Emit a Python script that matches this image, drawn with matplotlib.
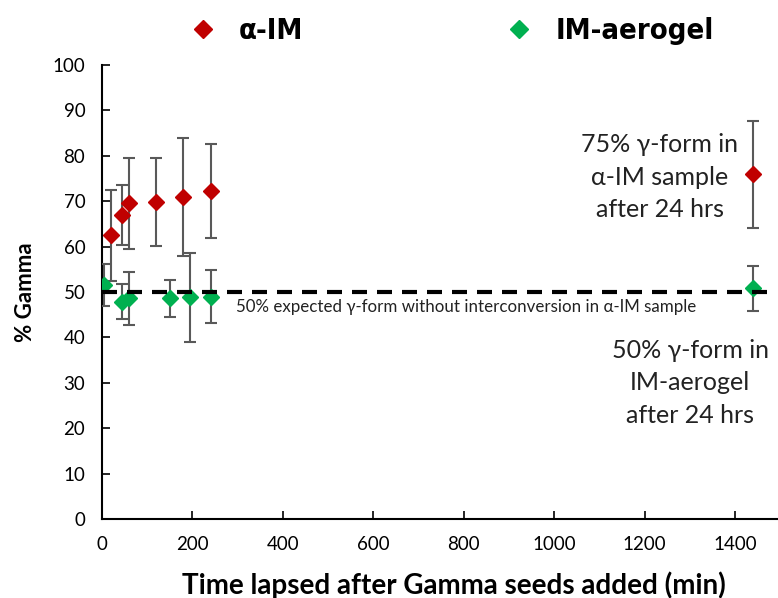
import matplotlib.pyplot as plt
from matplotlib.lines import Line2D

# time after seeding (min) and % gamma form, with standard deviations
t_alpha = [20, 45, 60, 120, 180, 240, 1440]
gamma_alpha = [62.5, 67.0, 69.5, 69.8, 71.0, 72.3, 75.9]
err_alpha = [10.0, 6.6, 10.0, 9.7, 13.0, 10.4, 11.8]

t_aerogel = [5, 45, 60, 150, 195, 240, 1440]
gamma_aerogel = [51.6, 47.9, 48.6, 48.6, 48.8, 49.0, 50.8]
err_aerogel = [4.6, 3.8, 5.9, 4.0, 9.9, 5.9, 4.9]

red = '#c00000'
green = '#00b050'
plt.rcParams['font.family'] = ['Lato', 'DejaVu Sans']

fig = plt.figure(figsize=(7.78, 5.98), dpi=100)
ax = fig.add_axes([0.1311, 0.1321, 0.8689, 0.7592])

ax.errorbar(t_alpha, gamma_alpha, yerr=err_alpha, fmt='D', color=red, ms=8,
            ecolor='#595959', elinewidth=1.5, capsize=4, capthick=1.5, zorder=3)
ax.errorbar(t_aerogel, gamma_aerogel, yerr=err_aerogel, fmt='D', color=green, ms=8,
            ecolor='#595959', elinewidth=1.5, capsize=4, capthick=1.5, zorder=3)

# 50% reference line (no interconversion)
ax.plot([0, 1490], [50, 50], color='black', lw=3, dashes=(3.6, 2.4), zorder=4)
ax.text(296, 48.4, '50% expected γ-form without interconversion in α-IM sample',
        fontsize=12.2, va='top', ha='left', color='#222222')

ax.text(1234, 75.3, '75% γ-form in\nα-IM sample\nafter 24 hrs', fontsize=18,
        ha='center', va='center', linespacing=1.5, color='#222222')
ax.text(1301, 30, '50% γ-form in\nIM-aerogel\nafter 24 hrs', fontsize=18,
        ha='center', va='center', linespacing=1.5, color='#222222')

ax.set_xlim(0, 1495)
ax.set_ylim(0, 100)
ax.set_xticks(range(0, 1401, 200))
ax.set_yticks(range(0, 101, 10))
ax.tick_params(direction='in', length=6, width=1.2, labelsize=13.5, pad=12)
for s in ['top', 'right']:
    ax.spines[s].set_visible(False)
for s in ['left', 'bottom']:
    ax.spines[s].set_linewidth(1.5)

ax.set_xlabel('Time lapsed after Gamma seeds added (min)', fontsize=20,
              fontweight='bold')
ax.xaxis.set_label_coords(0.52, -0.115)
ax.set_ylabel('% Gamma', fontsize=16, fontweight='bold', labelpad=12)

handles = [Line2D([], [], ls='none', marker='D', color=red, ms=9),
           Line2D([], [], ls='none', marker='D', color=green, ms=9)]
fig.legend(handles, ['α-IM', 'IM-aerogel'], loc='center', ncol=2,
           bbox_to_anchor=(0.58, 0.948), frameon=False, columnspacing=6.9,
           handlelength=1.0, handletextpad=0.75,
           prop={'family': 'DejaVu Sans', 'stretch': 'condensed',
                 'weight': 'bold', 'size': 21})

fig.savefig('out.png', dpi=100)
